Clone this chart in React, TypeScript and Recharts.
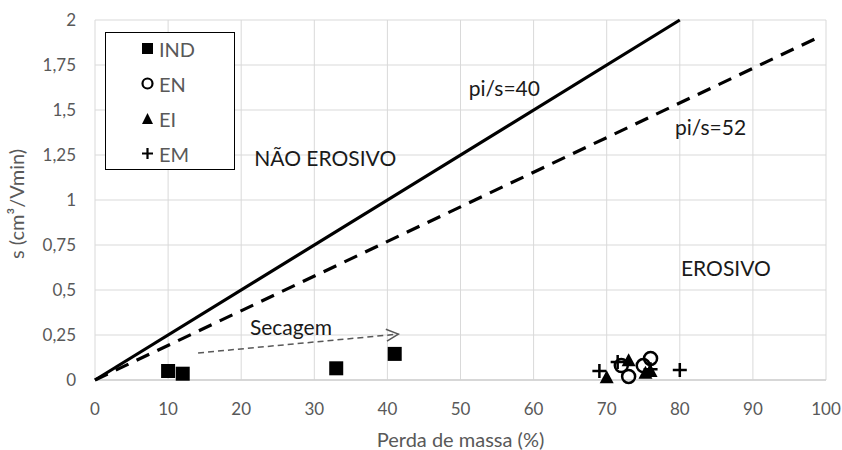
import React from 'react';
import { ScatterChart, Scatter, XAxis, YAxis, CartesianGrid, ReferenceDot, Legend } from 'recharts';

const IND = [{ p: 10, s: 0.05 }, { p: 12, s: 0.035 }, { p: 33, s: 0.065 }, { p: 41, s: 0.145 }];
const EN = [{ p: 72, s: 0.08 }, { p: 73, s: 0.02 }, { p: 75, s: 0.08 }, { p: 76, s: 0.12 }];
const EI = [{ p: 70, s: 0.015 }, { p: 73, s: 0.11 }, { p: 75.3, s: 0.04 }, { p: 76, s: 0.05 }];
const EM = [{ p: 69, s: 0.05 }, { p: 71.5, s: 0.1 }, { p: 76, s: 0.06 }, { p: 80, s: 0.055 }];
const LINE40 = [{ p: 0, s: 0 }, { p: 80, s: 2 }];
const LINE52 = [{ p: 0, s: 0 }, { p: 98.5, s: 1.895 }];
const ARROW = [{ p: 14.1, s: 0.15 }, { p: 41.5, s: 0.255 }];
const X_TICKS = [0, 10, 20, 30, 40, 50, 60, 70, 80, 90, 100];
const Y_TICKS = [0, 0.25, 0.5, 0.75, 1, 1.25, 1.5, 1.75, 2];
const ANNOTATIONS = [
  { p: 56, s: 1.62, text: 'pi/s=40' },
  { p: 84.2, s: 1.405, text: 'pi/s=52' },
  { p: 31.5, s: 1.23, text: 'NÃO EROSIVO' },
  { p: 86.3, s: 0.62, text: 'EROSIVO' },
  { p: 26.8, s: 0.29, text: 'Secagem' },
];
const LEGEND_ITEMS = ['IND', 'EN', 'EI', 'EM'];

const FONT = 'Lato, "Open Sans", sans-serif';

const Square = (props: any) => {
  const { cx, cy } = props;
  return <rect x={cx - 7} y={cy - 7} width={14} height={14} fill="#000" />;
};
const Circle = (props: any) => {
  const { cx, cy } = props;
  return <circle cx={cx} cy={cy} r={6.5} fill="none" stroke="#000" strokeWidth={2.5} />;
};
const Tri = (props: any) => {
  const { cx, cy } = props;
  return <polygon points={`${cx},${cy - 7} ${cx + 7},${cy + 6} ${cx - 7},${cy + 6}`} fill="#000" />;
};
const Plus = (props: any) => {
  const { cx, cy } = props;
  return <path d={`M${cx - 7},${cy}H${cx + 7}M${cx},${cy - 7}V${cy + 7}`} stroke="#000" strokeWidth={2.5} fill="none" />;
};
const NoShape = () => null;
const ArrowHead = (props: any) => {
  const { cx, cy, payload } = props;
  const last = ARROW[ARROW.length - 1];
  if (!payload || payload.p !== last.p) return null;
  return (
    <path
      d={`M${cx - 12},${cy - 6}L${cx},${cy}L${cx - 12},${cy + 6}`}
      fill="none"
      stroke="#595959"
      strokeWidth={1.5}
      transform={`rotate(-5.5 ${cx} ${cy})`}
    />
  );
};

const legendMarker = (name: string) => {
  switch (name) {
    case 'IND':
      return <rect x={2} y={2} width={11} height={11} fill="#000" />;
    case 'EN':
      return <circle cx={7.5} cy={7.5} r={5} fill="none" stroke="#000" strokeWidth={2.2} />;
    case 'EI':
      return <polygon points="7.5,2 13,13 2,13" fill="#000" />;
    default:
      return <path d="M2,7.5H13M7.5,2V13" stroke="#000" strokeWidth={2.2} fill="none" />;
  }
};

const LegendBox = () => (
  <div
    style={{
      width: 130,
      height: 138,
      boxSizing: 'border-box',
      border: '1.3px solid #000',
      background: '#fff',
      paddingTop: 0,
      fontFamily: FONT,
    }}
  >
    {LEGEND_ITEMS.map((n) => (
      <div key={n} style={{ display: 'flex', alignItems: 'center', height: 35, paddingLeft: 34, marginTop: n === 'IND' ? -2 : 0 }}>
        <svg width={15} height={15} style={{ display: 'block' }}>{legendMarker(n)}</svg>
        <span style={{ marginLeft: 4, fontSize: 20, lineHeight: '20px', color: '#595959' }}>{n}</span>
      </div>
    ))}
  </div>
);

const fmt = (v: number) => String(v).replace('.', ',');

export default function App() {
  return (
    <div style={{ position: 'absolute', left: 0, top: 0, width: 842, height: 450, background: '#fff' }}>
      <ScatterChart width={842} height={450} margin={{ top: 20, right: 16, left: 0, bottom: 0 }} style={{ fontFamily: FONT }}>
        <CartesianGrid stroke="#d9d9d9" strokeWidth={1} />
        <XAxis
          type="number"
          dataKey="p"
          domain={[0, 100]}
          ticks={X_TICKS}
          interval={0}
          height={70}
          tickSize={0}
          tickMargin={23}
          axisLine={{ stroke: '#d0d0d0', strokeWidth: 1.3 }}
          tick={{ fill: '#595959', fontSize: 17 }}
          label={{ value: 'Perda de massa (%)', position: 'insideBottom', offset: 3, fill: '#595959', fontSize: 20 }}
        />
        <YAxis
          type="number"
          dataKey="s"
          domain={[0, 2]}
          ticks={Y_TICKS}
          interval={0}
          width={95}
          tickSize={0}
          tickMargin={19}
          axisLine={false}
          tickFormatter={fmt}
          tick={{ fill: '#595959', fontSize: 17 }}
          label={{ value: 's (cm³/Vmin)', angle: -90, position: 'insideLeft', offset: 17, dy: 4, fill: '#595959', fontSize: 20, style: { textAnchor: 'middle' } }}
        />
        <Legend
          layout="vertical"
          align="center"
          verticalAlign="middle"
          content={() => <LegendBox />}
          wrapperStyle={{ left: 105, top: 32, width: 130, height: 138 }}
        />
        <Scatter data={LINE40} line={{ stroke: '#000', strokeWidth: 3.2 }} shape={NoShape} isAnimationActive={false} legendType="none" />
        <Scatter data={LINE52} line={{ stroke: '#000', strokeWidth: 3.2, strokeDasharray: '14 9' }} shape={NoShape} isAnimationActive={false} legendType="none" />
        <Scatter data={ARROW} line={{ stroke: '#595959', strokeWidth: 1.5, strokeDasharray: '6 4' }} shape={ArrowHead} isAnimationActive={false} legendType="none" />
        <Scatter name="IND" data={IND} shape={Square} isAnimationActive={false} />
        <Scatter name="EN" data={EN} shape={Circle} isAnimationActive={false} />
        <Scatter name="EI" data={EI} shape={Tri} isAnimationActive={false} />
        <Scatter name="EM" data={EM} shape={Plus} isAnimationActive={false} />
        {ANNOTATIONS.map((a) => (
          <ReferenceDot
            key={a.text}
            x={a.p}
            y={a.s}
            r={0}
            fill="none"
            stroke="none"
            label={{ value: a.text, position: 'center', fill: '#1a1a1a', fontSize: 21 }}
          />
        ))}
      </ScatterChart>
    </div>
  );
}
